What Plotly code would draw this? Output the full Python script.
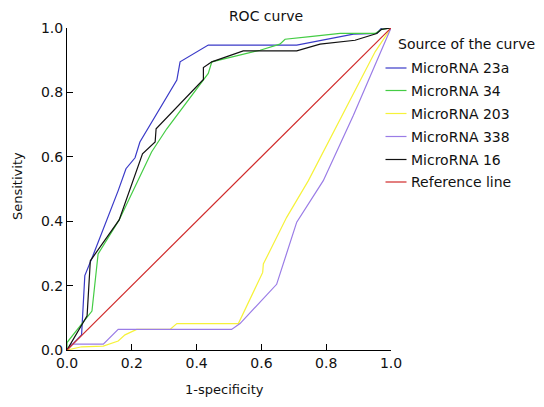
import plotly.graph_objects as go

# ---- data ----
series_names = ["MicroRNA 23a", "MicroRNA 34", "MicroRNA 203", "MicroRNA 338", "MicroRNA 16", "Reference line"]
series_colors = ["#3a3ac8", "#44cc44", "#f6f23a", "#9a7ce6", "#111111", "#d02a2a"]

fpr_23a = [0, 0.045, 0.055, 0.082, 0.158, 0.182, 0.21, 0.225, 0.339, 0.349, 0.436, 0.709, 0.884, 0.956, 0.971, 1.0]
tpr_23a = [0, 0.047, 0.231, 0.298, 0.495, 0.563, 0.597, 0.646, 0.838, 0.895, 0.947, 0.947, 0.981, 0.983, 1.0, 1.0]

fpr_34 = [0, 0.0, 0.077, 0.096, 0.161, 0.261, 0.308, 0.436, 0.447, 0.596, 0.657, 0.673, 0.75, 0.843, 0.951, 0.971, 1.0]
tpr_34 = [0, 0.023, 0.121, 0.298, 0.404, 0.615, 0.687, 0.859, 0.895, 0.931, 0.95, 0.965, 0.973, 0.983, 0.983, 0.996, 1.0]

fpr_203 = [0, 0.045, 0.112, 0.158, 0.179, 0.215, 0.318, 0.339, 0.529, 0.604, 0.606, 0.678, 0.745, 0.94, 0.951, 1.0]
tpr_203 = [0, 0.01, 0.012, 0.028, 0.047, 0.064, 0.064, 0.082, 0.082, 0.241, 0.267, 0.412, 0.526, 0.9, 0.926, 1.0]

fpr_338 = [0, 0.014, 0.112, 0.158, 0.508, 0.534, 0.647, 0.709, 0.791, 0.884, 1.0]
tpr_338 = [0, 0.018, 0.018, 0.064, 0.064, 0.082, 0.204, 0.397, 0.526, 0.729, 1.0]

fpr_16 = [0, 0.062, 0.072, 0.161, 0.233, 0.272, 0.275, 0.421, 0.421, 0.447, 0.544, 0.709, 0.781, 0.889, 0.956, 0.971, 1.0]
tpr_16 = [0, 0.106, 0.277, 0.404, 0.609, 0.646, 0.687, 0.84, 0.877, 0.895, 0.929, 0.929, 0.95, 0.962, 0.983, 0.996, 1.0]

fpr_ref = [0, 1]
tpr_ref = [0, 1]

tick_vals = [0.0, 0.2, 0.4, 0.6, 0.8, 1.0]
tick_text = ["0.0", "0.2", "0.4", "0.6", "0.8", "1.0"]

all_x = [fpr_23a, fpr_34, fpr_203, fpr_338, fpr_16, fpr_ref]
all_y = [tpr_23a, tpr_34, tpr_203, tpr_338, tpr_16, tpr_ref]

# page body has an 8px margin, so the figure is drawn 8px in from the window edge
OFF = 8
W, H = 544 - 2 * OFF, 407 - 2 * OFF
FONT = "DejaVu Sans"

fig = go.Figure()
for name, col, xs, ys in zip(series_names, series_colors, all_x, all_y):
    fig.add_trace(go.Scatter(x=xs, y=ys, mode="lines", name=name,
                             line=dict(color=col, width=1.2), showlegend=False))

# window-pixel -> paper helpers for layout only
def px(x):
    return (x - OFF) / W

def py(y):
    return 1 - (y - OFF) / H

axis_common = dict(range=[0, 1], tickvals=tick_vals, ticktext=tick_text,
                   showgrid=False, zeroline=False, showline=True, automargin=False,
                   linecolor="black", linewidth=1, ticks="inside",
                   ticklen=6, tickcolor="black",
                   tickfont=dict(family=FONT, size=14, color="#111"))

fig.update_layout(
    width=W, height=H,
    margin=dict(l=0, r=0, t=0, b=0, pad=0, autoexpand=False),
    paper_bgcolor="white", plot_bgcolor="white",
    xaxis=dict(domain=[px(67), px(391)], **axis_common),
    yaxis=dict(domain=[py(350), py(28)], **axis_common),
    title=dict(text="ROC curve", x=px(266), y=py(16), xanchor="center", yanchor="middle",
               xref="paper", yref="paper", automargin=False,
               font=dict(family=FONT, size=14, color="#111")),
)

annotations = [
    dict(text="1-specificity", x=px(224), y=py(389), xref="paper", yref="paper",
         xanchor="center", yanchor="middle", showarrow=False,
         font=dict(family=FONT, size=13, color="#111")),
    dict(text="Sensitivity", x=px(17), y=py(186), xref="paper", yref="paper",
         xanchor="center", yanchor="middle", showarrow=False, textangle=-90,
         font=dict(family=FONT, size=13, color="#111")),
    dict(text="Source of the curve", x=px(396), y=py(44), xref="paper", yref="paper",
         xanchor="left", yanchor="middle", showarrow=False,
         font=dict(family=FONT, size=14, color="#111")),
]
shapes = []
row_y = [68, 90.5, 113.5, 136.5, 159.5, 182]
for name, col, ry in zip(series_names, series_colors, row_y):
    annotations.append(dict(text=name, x=px(409), y=py(ry), xref="paper", yref="paper",
                            xanchor="left", yanchor="middle", showarrow=False,
                            font=dict(family=FONT, size=14, color="#111")))
    shapes.append(dict(type="line", xref="paper", yref="paper",
                       x0=px(385.5), x1=px(406.5), y0=py(ry), y1=py(ry),
                       line=dict(color=col, width=1.2)))

fig.update_layout(annotations=annotations, shapes=shapes)

fig.write_html("out.html")
